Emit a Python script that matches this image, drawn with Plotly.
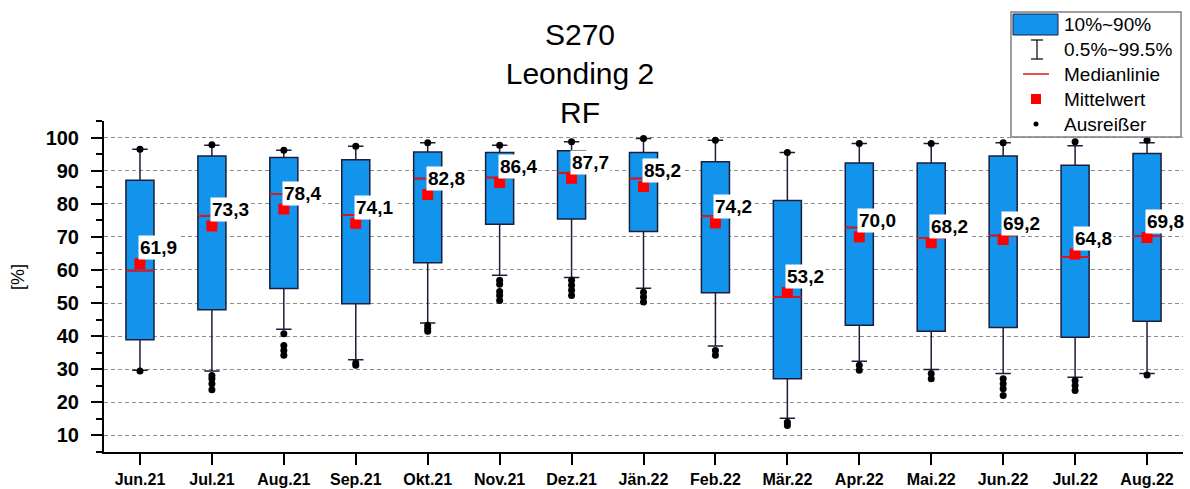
"""Monthly box plot of RF (%), station S270 Leonding 2."""

import plotly.graph_objects as go

months = ["Jun.21", "Jul.21", "Aug.21", "Sep.21", "Okt.21", "Nov.21", "Dez.21", "Jän.22",
          "Feb.22", "Mär.22", "Apr.22", "Mai.22", "Jun.22", "Jul.22", "Aug.22"]
p10 = [38.9, 48.0, 54.4, 49.8, 62.2, 73.8, 75.4, 71.6, 53.1, 27.1, 43.3, 41.5, 42.6, 39.7, 44.5]
p90 = [87.1, 94.4, 94.0, 93.3, 95.6, 95.5, 96.0, 95.5, 92.7, 81.0, 92.3, 92.3, 94.4, 91.6, 95.2]
median = [59.8, 76.4, 82.9, 76.6, 87.6, 87.9, 89.4, 87.6, 76.2, 51.8, 72.8, 69.6, 70.4, 63.9, 70.2]
mean = [61.9, 73.3, 78.4, 74.1, 82.8, 86.4, 87.7, 85.2, 74.2, 53.2, 70.0, 68.2, 69.2, 64.8, 69.8]
p0_5 = [29.7, 29.5, 42.1, 32.9, 44.0, 58.4, 57.7, 54.5, 37.0, 15.2, 32.4, 29.9, 28.7, 27.6, 28.7]
p99_5 = [96.5, 97.7, 96.2, 97.4, 98.4, 97.7, 98.7, 99.7, 99.2, 95.5, 98.2, 98.2, 98.4, 97.5, 98.4]
outliers = [
    [96.5, 29.5],
    [97.8, 28.1, 27.1, 25.6, 23.8],
    [96.2, 40.7, 37.2, 35.7, 34.2],
    [97.4, 31.9, 31.2],
    [98.4, 43.3, 42.3, 41.5],
    [97.7, 56.9, 55.7, 53.5, 52.3, 50.8],
    [98.7, 56.9, 55.4, 53.9, 52.3],
    [99.7, 53.3, 51.8, 50.3],
    [99.2, 35.7, 34.2],
    [95.5, 14.0, 13.0],
    [98.2, 31.2, 29.7],
    [98.2, 28.7, 27.1],
    [98.4, 27.1, 25.6, 24.1, 22.1],
    [98.7, 26.6, 25.1, 23.6],
    [99.2, 28.3],
]

FONT = "Liberation Sans, Arial, sans-serif"
BLUE = "#1294ED"
EDGE = "#1c1c3c"
BOX_W = 0.39

W, H = 1190, 489
L, R, T, B = 104, 7, 121, 37


def px(x):
    return (x - L) / (W - L - R)


def py(y):
    return (H - B - y) / (H - T - B)


pos = list(range(len(months)))

fig = go.Figure()
fig.add_trace(
    go.Box(
        x=pos,
        q1=p10,
        median=median,
        q3=p90,
        lowerfence=p0_5,
        upperfence=p99_5,
        width=BOX_W,
        whiskerwidth=0.55,
        fillcolor=BLUE,
        line={"color": EDGE, "width": 1.5},
        showlegend=False,
        hoverinfo="skip",
    )
)

# red median lines over the box's own median
mx, my = [], []
for i, m in zip(pos, median):
    mx += [i - BOX_W / 2, i + BOX_W / 2, None]
    my += [m, m, None]
fig.add_trace(go.Scatter(x=mx, y=my, mode="lines", line={"color": "#e8141e", "width": 1.8},
                         showlegend=False, hoverinfo="skip"))

ox, oy = [], []
for i, vals in zip(pos, outliers):
    ox += [i] * len(vals)
    oy += vals
fig.add_trace(go.Scatter(x=ox, y=oy, mode="markers", marker={"color": "black", "size": 7},
                         showlegend=False, hoverinfo="skip"))

fig.add_trace(go.Scatter(x=pos, y=mean, mode="markers",
                         marker={"color": "#ff0000", "size": 11, "symbol": "square"},
                         showlegend=False, hoverinfo="skip"))

for i, m in zip(pos, mean):
    fig.add_annotation(x=i, y=m, text=f"{m:.1f}".replace(".", ","), showarrow=False,
                       xanchor="left", yanchor="middle", xshift=-2, yshift=16,
                       bgcolor="white", borderpad=1,
                       font={"family": FONT, "size": 19, "color": "black", "weight": "bold"})

# legend box drawn by hand
shapes = [
    dict(type="rect", x0=px(1011), x1=px(1181), y0=py(137), y1=py(12),
         line={"color": "#7f7f7f", "width": 1.5}, fillcolor="white"),
    dict(type="rect", x0=px(1013), x1=px(1058), y0=py(35), y1=py(14),
         line={"color": EDGE, "width": 1}, fillcolor=BLUE),
    dict(type="line", x0=px(1037), x1=px(1037), y0=py(59), y1=py(40),
         line={"color": "black", "width": 1.2}),
    dict(type="line", x0=px(1031), x1=px(1043), y0=py(40), y1=py(40),
         line={"color": "black", "width": 1.2}),
    dict(type="line", x0=px(1031), x1=px(1043), y0=py(59), y1=py(59),
         line={"color": "black", "width": 1.2}),
    dict(type="line", x0=px(1023), x1=px(1049), y0=py(74), y1=py(74),
         line={"color": "#e8141e", "width": 1.5}),
    dict(type="rect", x0=px(1031), x1=px(1041), y0=py(104), y1=py(94),
         line={"width": 0}, fillcolor="#ff0000"),
    dict(type="circle", x0=px(1033.5), x1=px(1038.5), y0=py(126.5), y1=py(121.5),
         line={"width": 0}, fillcolor="black"),
]
for s in shapes:
    s.update(xref="paper", yref="paper", layer="above")
fig.update_layout(shapes=shapes)

legend_items = ["10%~90%", "0.5%~99.5%", "Medianlinie", "Mittelwert", "Ausreißer"]
for k, txt in enumerate(legend_items):
    fig.add_annotation(x=px(1062), y=py(25 + 24.8 * k), xref="paper", yref="paper",
                       text=txt, showarrow=False, xanchor="left", yanchor="middle",
                       font={"family": FONT, "size": 19, "color": "black"})

fig.add_annotation(x=px(18), y=py(277), xref="paper", yref="paper", text="[%]",
                   showarrow=False, textangle=-90, xanchor="center", yanchor="middle",
                   font={"family": FONT, "size": 18, "color": "black"})

fig.update_layout(
    width=W,
    height=H,
    margin={"l": L, "r": R, "t": T, "b": B},
    plot_bgcolor="white",
    paper_bgcolor="white",
    font={"family": FONT, "color": "black"},
    title={"text": "S270<br>Leonding 2<br>RF", "x": 580 / W, "xanchor": "center",
           "y": 1 - 45 / H, "yanchor": "top", "font": {"family": FONT, "size": 30}},
    xaxis={
        "range": [-0.5, 14.5],
        "tickvals": pos,
        "ticktext": months,
        "ticks": "outside",
        "ticklen": 11,
        "tickwidth": 2,
        "tickcolor": "black",
        "ticklabelstandoff": 1,
        "automargin": False,
        "showline": True,
        "linewidth": 2,
        "linecolor": "black",
        "showgrid": False,
        "zeroline": False,
        "tickfont": {"family": FONT, "size": 16, "weight": "bold"},
    },
    yaxis={
        "range": [5, 105],
        "tickvals": list(range(10, 101, 10)),
        "ticks": "outside",
        "ticklen": 11,
        "tickwidth": 2,
        "tickcolor": "black",
        "ticklabelstandoff": 8,
        "automargin": False,
        "showline": True,
        "linewidth": 2,
        "linecolor": "black",
        "showgrid": True,
        "gridcolor": "#8c8c8c",
        "gridwidth": 1,
        "griddash": "4px,3px",
        "zeroline": False,
        "minor": {"dtick": 5, "tick0": 5, "ticks": "outside", "ticklen": 6,
                  "tickwidth": 2, "tickcolor": "black", "showgrid": False},
        "tickfont": {"family": FONT, "size": 20, "weight": "bold"},
    },
)

fig.write_html("out.html", config={"displayModeBar": False},
               post_script="document.body.style.margin='0';")
